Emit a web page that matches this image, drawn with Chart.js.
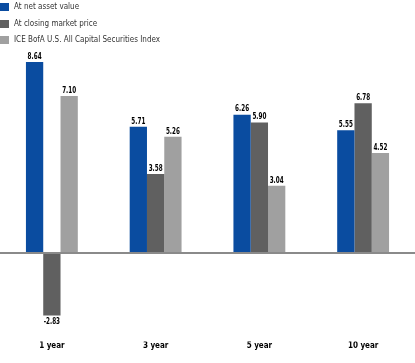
<!DOCTYPE html>
<html>
<head>
<meta charset="utf-8">
<script src="https://cdn.jsdelivr.net/npm/chart.js@4"></script>
<style>
  body { margin: 0; background: #fff; }
  #wrap { position: relative; width: 415px; height: 363px; }
  #legend { position: absolute; left: 0; top: 0; font: 8px 'Liberation Sans Narrow', 'DejaVu Sans Condensed', sans-serif; color: #333; }
  .row { position: absolute; left: 0; height: 10px; white-space: nowrap; line-height: 10px; }
  .box { position: absolute; left: 0; top: 1px; width: 9px; height: 8px; }
  .lbl { position: absolute; left: 14px; top: 0; }
</style>
</head>
<body>
<div id="wrap">
  <canvas id="myChart" width="415" height="363"></canvas>
  <div id="legend"></div>
</div>
<script>
const categories = ['1 year', '3 year', '5 year', '10 year'];
const seriesNames = ['At net asset value', 'At closing market price', 'ICE BofA U.S. All Capital Securities Index'];
const navValues = [8.64, 5.71, 6.26, 5.55];
const marketValues = [-2.83, 3.58, 5.90, 6.78];
const indexValues = [7.10, 5.26, 3.04, 4.52];
const colors = ['rgb(10, 76, 160)', 'rgb(96, 96, 96)', 'rgb(160, 160, 160)'];

const ctx = document.getElementById('myChart');
const legend = document.getElementById('legend');

seriesNames.forEach((name, i) => {
    const row = document.createElement('div');
    row.className = 'row';
    row.style.top = (2 + i * 16.5) + 'px';
    row.innerHTML = `<span class="box" style="background:${colors[i]}"></span><span class="lbl">${name}</span>`;
    legend.appendChild(row);
});

// value labels, squeezed horizontally like the condensed font of the original
const valueLabels = {
    id: 'valueLabels',
    afterDatasetsDraw(chart) {
        const c = chart.ctx;
        chart.data.datasets.forEach((ds, i) => {
            chart.getDatasetMeta(i).data.forEach((bar, j) => {
                const v = ds.data[j];
                c.save();
                c.font = "bold 9px 'Liberation Sans Narrow', 'DejaVu Sans Condensed', sans-serif";
                c.fillStyle = '#000';
                c.textAlign = 'center';
                c.translate(bar.x, bar.y);
                c.scale(0.7, 1);
                if (v >= 0) {
                    c.textBaseline = 'bottom';
                    c.fillText(v.toFixed(2), 0, -1);
                } else {
                    c.textBaseline = 'top';
                    c.fillText(v.toFixed(2), 0, 2);
                }
                c.restore();
            });
        });
    }
};

const data = {
    labels: categories,
    datasets: [
        { label: seriesNames[0], data: navValues, backgroundColor: colors[0] },
        { label: seriesNames[1], data: marketValues, backgroundColor: colors[1] },
        { label: seriesNames[2], data: indexValues, backgroundColor: colors[2] }
    ]
};

new Chart(ctx, {
    type: 'bar',
    data: data,
    options: {
        responsive: false,
        animation: false,
        layout: { padding: { top: 32, bottom: 12, left: 0, right: 0 } },
        datasets: {
            bar: { categoryPercentage: 0.5, barPercentage: 1.0 }
        },
        plugins: {
            legend: { display: false },
            tooltip: { enabled: false }
        },
        scales: {
            x: {
                grid: { display: false, drawTicks: false },
                border: { display: false },
                ticks: {
                    padding: 0,
                    color: '#000',
                    font: { family: "'Liberation Sans Narrow', 'DejaVu Sans Condensed', sans-serif", size: 8, weight: 'bold' }
                }
            },
            y: {
                min: -4,
                max: 10,
                border: { display: false },
                grid: {
                    drawTicks: false,
                    lineWidth: 2,
                    color: c => c.tick.value === 0 ? 'rgb(138, 138, 138)' : 'transparent'
                },
                ticks: { display: false, stepSize: 1 }
            }
        }
    },
    plugins: [valueLabels]
});
</script>
</body>
</html>
